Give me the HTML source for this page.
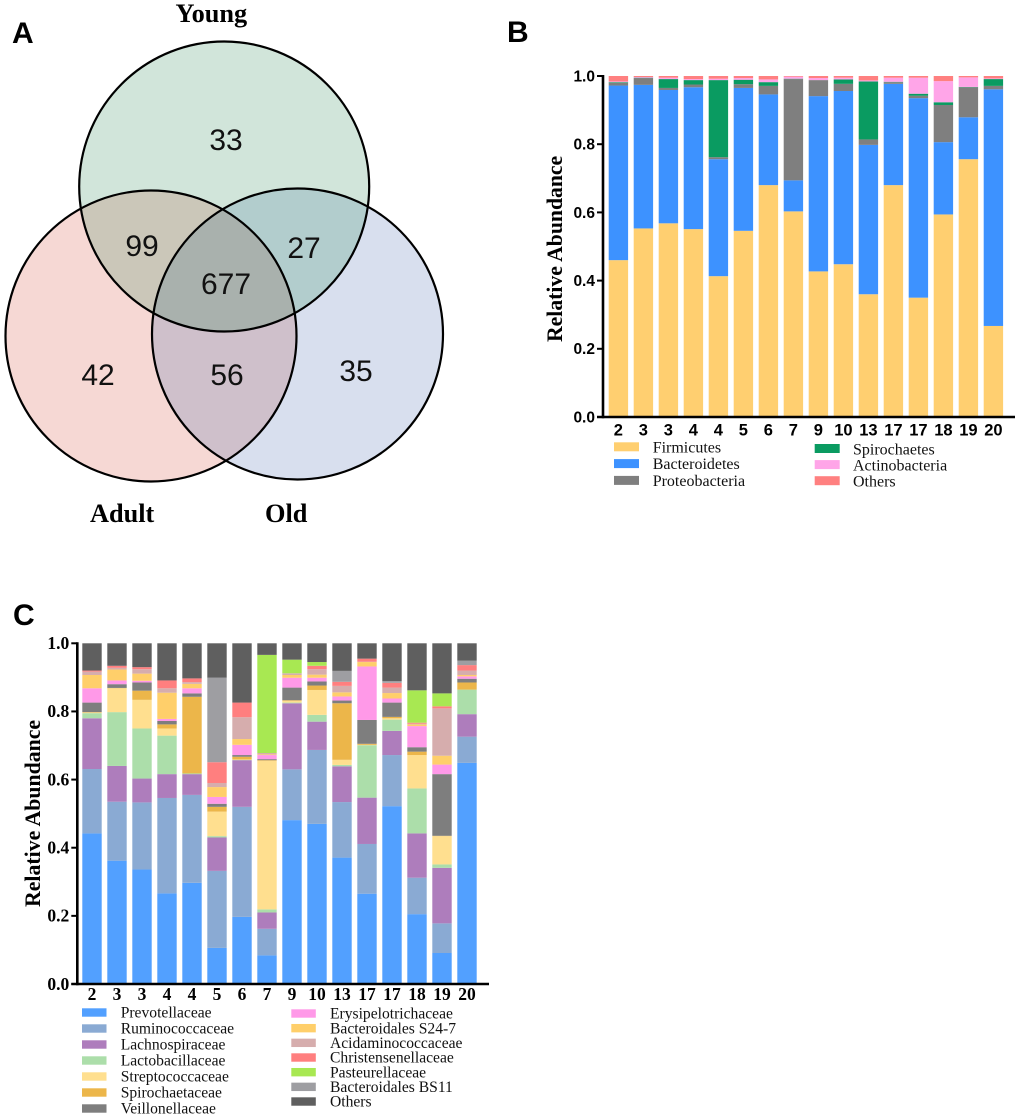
<!DOCTYPE html>
<html lang="en">
<head>
<meta charset="utf-8">
<title>Venn diagram and relative abundance charts</title>
<style>
html,body{margin:0;padding:0;background:#fff;}
svg{display:block;}
.panel{font-family:"Liberation Sans",sans-serif;font-weight:bold;font-size:30px;fill:#000;}
.venn-num{font-family:"Liberation Sans",sans-serif;font-size:30px;fill:#111;text-anchor:middle;}
.venn-title{font-family:"Liberation Serif",serif;font-weight:bold;font-size:26.3px;fill:#000;}
</style>
</head>
<body>
<svg id="root" width="1020" height="1118" viewBox="0 0 1020 1118" xmlns="http://www.w3.org/2000/svg">
  <rect width="1020" height="1118" fill="#fff"/>
  <defs>
    <clipPath id="clip-young"><circle cx="224.2" cy="186.5" r="145"/></clipPath>
    <clipPath id="clip-adult"><circle cx="151" cy="336" r="145.5"/></clipPath>
    <clipPath id="clip-old"><circle cx="297.5" cy="334" r="145.5"/></clipPath>
  </defs>

  <text class="panel" x="12" y="43">A</text>
  <text class="panel" x="507" y="42">B</text>
  <text class="panel" x="13" y="625">C</text>

  <g>
    <circle cx="224.2" cy="186.5" r="145" fill="#d1e5da"/>
    <circle cx="151" cy="336" r="145.5" fill="#f6d8d4"/>
    <circle cx="297.5" cy="334" r="145.5" fill="#d8dfee"/>
    <g clip-path="url(#clip-young)">
      <circle cx="151" cy="336" r="145.5" fill="#cbc7b9"/>
      <circle cx="297.5" cy="334" r="145.5" fill="#b2cdcd"/>
    </g>
    <g clip-path="url(#clip-adult)">
      <circle cx="297.5" cy="334" r="145.5" fill="#cfc0cb"/>
      <g clip-path="url(#clip-young)">
        <circle cx="297.5" cy="334" r="145.5" fill="#a9b1ad"/>
      </g>
    </g>
    <circle cx="224.2" cy="186.5" r="145" fill="none" stroke="#000" stroke-width="2.2"/>
    <circle cx="151" cy="336" r="145.5" fill="none" stroke="#000" stroke-width="2.2"/>
    <circle cx="297.5" cy="334" r="145.5" fill="none" stroke="#000" stroke-width="2.2"/>
    <text class="venn-num" x="226" y="150">33</text>
    <text class="venn-num" x="142" y="256">99</text>
    <text class="venn-num" x="304" y="258">27</text>
    <text class="venn-num" x="226" y="294">677</text>
    <text class="venn-num" x="98" y="385">42</text>
    <text class="venn-num" x="227" y="385">56</text>
    <text class="venn-num" x="356" y="381">35</text>
    <text class="venn-title" x="175.5" y="22">Young</text>
    <text class="venn-title" x="90" y="522">Adult</text>
    <text class="venn-title" x="265" y="522">Old</text>
  </g>
</svg>
<script>
// Shared axis labels
const yTicks = [0, 0.2, 0.4, 0.6, 0.8, 1.0];
const categories = ['2','3','3','4','4','5','6','7','9','10','13','17','17','18','19','20'];

// Panel B series
const phylumNames = ['Firmicutes','Bacteroidetes','Proteobacteria','Spirochaetes','Actinobacteria','Others'];
const firmicutes = [.46,.553,.568,.551,.413,.546,.68,.603,.427,.448,.36,.68,.35,.594,.756,.267];
const bacteroidetes = [.512,.421,.391,.416,.343,.419,.266,.091,.514,.508,.438,.297,.585,.212,.123,.694];
const proteobacteria = [.008,.02,.006,.008,.006,.011,.025,.297,.047,.021,.016,.005,.007,.109,.088,.01];
const spirochaetes = [.002,.001,.026,.013,.226,.013,.011,.001,0,.013,.17,.001,.006,.008,.001,.02];
const actinobacteria = [.002,.002,.004,.003,.004,.005,.008,.006,.006,.005,.003,.012,.047,.062,.028,.002];
const phylumOthers = [.016,.003,.005,.009,.008,.006,.01,.002,.006,.005,.013,.005,.005,.015,.004,.007];
const phylumColors = ['#ffcf70','#3d92ff','#7f7f7f','#0a9b61','#ffa5e8','#ff8080'];

// Panel C series
const familyNames = ['Prevotellaceae','Ruminococcaceae','Lachnospiraceae','Lactobacillaceae','Streptococcaceae','Spirochaetaceae','Veillonellaceae','Erysipelotrichaceae','Bacteroidales S24-7','Acidaminococcaceae','Christensenellaceae','Pasteurellaceae','Bacteroidales BS11','Others'];
const prevotellaceae = [.442,.362,.336,.266,.297,.106,.197,.084,.481,.47,.371,.265,.522,.205,.091,.649];
const ruminococcaceae = [.189,.173,.197,.28,.258,.226,.323,.078,.149,.217,.163,.146,.15,.107,.087,.077];
const lachnospiraceae = [.149,.105,.07,.07,.061,.098,.137,.048,.194,.083,.105,.136,.071,.13,.163,.066];
const lactobacillaceae = [.015,.158,.147,.113,.002,.004,.001,.009,.002,.02,.004,.154,.033,.132,.01,.072];
const streptococcaceae = [.002,.07,.084,.021,0,.072,.001,.436,.005,.073,.015,.001,.004,.098,.083,0];
const spirochaetaceae = [.001,.001,.027,.012,.225,.014,.008,.002,.002,.013,.166,.003,.004,.01,.001,.021];
const veillonellaceae = [.028,.011,.024,.01,.01,.009,.005,.003,.037,.012,.008,.07,.042,.013,.181,.011];
const erysipelotrichaceae = [.042,.011,.005,.006,.015,.02,.03,.012,.029,.011,.012,.157,.012,.062,.028,.007];
const bacteroidalesS247 = [.039,.032,.021,.077,.013,.029,.017,.002,.008,.009,.012,.013,.016,.005,.026,.004];
const acidaminococcaceae = [.01,.005,.013,.013,.005,.012,.064,.004,.005,.016,.019,.001,.016,.002,.139,.013];
const christensenellaceae = [.003,.006,.006,.023,.011,.061,.043,0,0,.01,.012,.009,.014,.003,.006,.016];
const pasteurellaceae = [0,0,0,0,0,0,0,.288,.04,.011,0,0,0,.095,.038,0];
const bacteroidalesBS11 = [0,0,0,0,0,.248,0,0,0,0,.032,0,.005,0,0,.013];
const familyOthers = [.08,.066,.07,.109,.103,.101,.174,.034,.048,.055,.081,.045,.111,.138,.147,.051];
const familyColors = ['#52a0ff','#8aaad3','#ae7dbc','#acdeaa','#ffdf8f','#ecb64a','#7e7e7e','#ff99e8','#ffcf6a','#d6adad','#ff7f7f','#a8e852','#9e9ea2','#5f5f5f'];

const SVG_NS = 'http://www.w3.org/2000/svg';
const root = document.getElementById('root');

function make(tag, attrs, parent) {
  const el = document.createElementNS(SVG_NS, tag);
  for (const k in attrs) el.setAttribute(k, attrs[k]);
  parent.appendChild(el);
  return el;
}

function slug(s) {
  return s.toLowerCase().replace(/[^a-z0-9]+/g, '-');
}

function drawChart(cfg) {
  const g = make('g', {}, root);
  
  

  const yScale = v => cfg.y0 - cfg.yLen * v;
  const xScale = i => cfg.xFirst + cfg.pitch * i;

  // stacked bars
  categories.forEach((cat, i) => {
    let acc = 0;
    cfg.series.forEach((vals, s) => {
      const v = vals[i];
      const top = yScale(acc + v);
      const bottom = yScale(acc);
      acc += v;
      if (v <= 0) return;
      const bar = make('rect', {x: xScale(i), y: top, width: cfg.barW, height: bottom - top, fill: cfg.colors[s]}, g);
      
      
    });
  });

  // y axis line
  const yAxis = make('line', {x1: cfg.axisX, x2: cfg.axisX, y1: yScale(1) - 1, y2: cfg.y0 + 1.25, stroke: '#000', 'stroke-width': 2.6}, g);
  
  

  // x axis line
  const xAxis = make('line', {x1: cfg.axisX - 6, x2: cfg.axisEnd, y1: cfg.y0, y2: cfg.y0, stroke: '#000', 'stroke-width': 2.6}, g);
  
  

  // y ticks and labels
  yTicks.forEach(t => {
    const tick = make('line', {x1: cfg.axisX - 6, x2: cfg.axisX, y1: yScale(t), y2: yScale(t), stroke: '#000', 'stroke-width': 2}, g);
    
    
    const label = make('text', {x: cfg.axisX - 8, y: yScale(t) + cfg.tickDy, 'text-anchor': 'end', 'font-family': cfg.tickFont, 'font-weight': 'bold', 'font-size': cfg.tickSize}, g);
    
    
    label.textContent = t.toFixed(1);
  });

  // x labels
  categories.forEach((cat, i) => {
    const label = make('text', {x: xScale(i) + cfg.barW / 2, y: cfg.xLabelY, 'text-anchor': 'middle', 'font-family': cfg.tickFont, 'font-weight': 'bold', 'font-size': cfg.xTickSize}, g);
    
    
    label.textContent = cat;
  });

  // y title
  const title = make('text', {transform: 'translate(' + cfg.titleX + ',' + cfg.titleY + ') rotate(-90)', 'font-family': '"Liberation Serif",serif', 'font-weight': 'bold', 'font-size': cfg.titleSize}, g);
  
  
  title.textContent = 'Relative Abundance';

  // legend
  cfg.names.forEach((n, s) => {
    const right = s >= cfg.leftCount;
    const row = right ? s - cfg.leftCount : s;
    const col = right ? cfg.legendRight : cfg.legendLeft;
    const entry = make('g', {}, g);
    
    
    const swatch = make('rect', {x: col.swatchX, y: col.swatchY + row * col.pitch, width: cfg.swatchW, height: cfg.swatchH, fill: cfg.colors[s]}, entry);
    
    
    const label = make('text', {x: col.textX, y: col.textY + row * col.pitch, 'font-family': '"Liberation Serif",serif', 'font-size': cfg.legendSize, fill: '#111'}, entry);
    
    
    label.textContent = n;
  });
}

drawChart({
  name: 'phylum-abundance-chart',
  series: [firmicutes, bacteroidetes, proteobacteria, spirochaetes, actinobacteria, phylumOthers],
  names: phylumNames, colors: phylumColors,
  y0: 417, yLen: 341, xFirst: 608.7, pitch: 25, barW: 19.4, axisX: 603, axisEnd: 1015,
  tickFont: '"Liberation Sans",sans-serif', tickSize: 15.5, xTickSize: 16.5, tickDy: 5.4, xLabelY: 435.5,
  titleX: 562, titleY: 342, titleSize: 21.7,
  leftCount: 3, swatchW: 25, swatchH: 9, legendSize: 16,
  legendLeft: {swatchX: 614, swatchY: 442.3, textX: 652.7, textY: 452.3, pitch: 16.8},
  legendRight: {swatchX: 814.7, swatchY: 444, textX: 853, textY: 454.3, pitch: 16.1}
});

drawChart({
  name: 'family-abundance-chart',
  series: [prevotellaceae, ruminococcaceae, lachnospiraceae, lactobacillaceae, streptococcaceae, spirochaetaceae, veillonellaceae, erysipelotrichaceae, bacteroidalesS247, acidaminococcaceae, christensenellaceae, pasteurellaceae, bacteroidalesBS11, familyOthers],
  names: familyNames, colors: familyColors,
  y0: 984, yLen: 340.7, xFirst: 82.3, pitch: 25, barW: 19.4, axisX: 77.3, axisEnd: 489,
  tickFont: '"Liberation Serif",serif', tickSize: 17.5, xTickSize: 17.5, tickDy: 5.8, xLabelY: 1000,
  titleX: 40, titleY: 907, titleSize: 21.8,
  leftCount: 7, swatchW: 24.5, swatchH: 8.4, legendSize: 15.6,
  legendLeft: {swatchX: 82, swatchY: 1008.3, textX: 120.7, textY: 1017.3, pitch: 16},
  legendRight: {swatchX: 291.3, swatchY: 1009.3, textX: 330, textY: 1018.7, pitch: 14.67}
});
</script>
</body>
</html>
